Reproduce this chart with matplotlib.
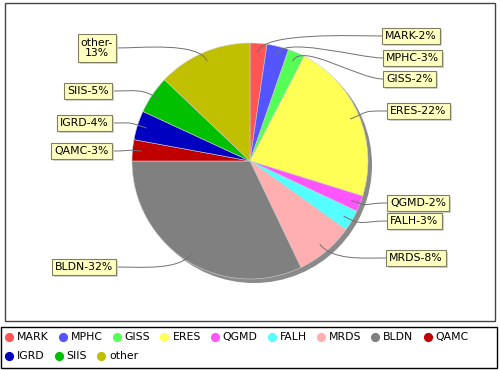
import numpy as np
import matplotlib
matplotlib.use("Agg")
import matplotlib.pyplot as plt
from matplotlib.path import Path
from matplotlib.patches import PathPatch, Circle, Rectangle
from matplotlib.lines import Line2D

# ---- data ----
categories = ["MARK", "MPHC", "GISS", "ERES", "QGMD", "FALH", "MRDS", "BLDN",
              "QAMC", "IGRD", "SIIS", "other"]
values = [2.3, 3.0, 2.3, 22.2, 2.2, 2.9, 8.0, 32.1, 2.9, 4.0, 5.2, 12.9]
colors = ["#FF5555", "#5555FF", "#55FF55", "#FFFF55", "#FF55FF", "#55FFFF",
          "#FFAFAF", "#808080", "#C00000", "#0000C0", "#00C000", "#C0C000"]

# ---- layout (pixels) ----
W, H = 500, 370
CX, CY, R = 250, 161, 118
# label placement: side, box edge x nearest the pie, box centre y
label_side = ["r", "r", "r", "r", "r", "r", "r", "l", "l", "l", "l", "l"]
label_edge = [382, 383, 383, 387, 387, 387, 386, 116, 112, 112, 112, 116]
label_y = [36, 58, 79, 111, 203, 221, 258, 267, 151, 123, 91, 48]
FS = 7.8

fig = plt.figure(figsize=(W / 100, H / 100), dpi=100)
fig.patch.set_facecolor("white")
ax = fig.add_axes([0, 0, 1, 1])

# pie shadow
ax.add_patch(Circle((CX + 4, CY + 4), R, facecolor="#8a8a8a",
                    edgecolor="none", zorder=2))

wedges, _ = ax.pie(values, colors=colors, startangle=270, counterclock=True,
                   center=(CX, CY), radius=R, frame=True,
                   wedgeprops=dict(edgecolor="#d0d0d0", linewidth=0.4))
for w in wedges:
    w.set_zorder(3)
ax.set_xlim(0, W)
ax.set_ylim(H, 0)
ax.set_aspect("auto")
ax.axis("off")

# plot border
ax.add_patch(Rectangle((5, 3), 490, 318, fill=False, edgecolor="#444444",
                       linewidth=1.0, zorder=1))

total = float(sum(values))
cum = np.cumsum([0] + values[:-1])
label_texts = []
for i, name in enumerate(categories):
    pct = values[i] / total * 100
    mid = (cum[i] + values[i] / 2) / total * 2 * np.pi
    dx, dy = np.sin(mid), -np.cos(mid)
    p0 = (CX + 0.92 * R * dx, CY + 0.92 * R * dy)
    p1 = (CX + 1.10 * R * dx, CY + 1.10 * R * dy)
    ex = label_edge[i]
    ly = label_y[i]
    sgn = 1 if label_side[i] == "r" else -1
    p2 = (ex - sgn * 25, ly)
    p3 = (ex, ly)
    path = Path([p0, p1, p2, p3], [Path.MOVETO, Path.CURVE4, Path.CURVE4, Path.CURVE4])
    ax.add_patch(PathPatch(path, fill=False, edgecolor="#707070", linewidth=0.7, zorder=4))

    sep = "-\n" if name == "other" else "-"
    txt = f"{name}{sep}{int(round(pct))}%"
    ha = "left" if sgn == 1 else "right"
    tx = ex + sgn * 3
    t = ax.text(tx, ly, txt, ha=ha, va="center", fontsize=FS, color="black",
                multialignment="center", zorder=6, linespacing=1.1,
                bbox=dict(boxstyle="square,pad=0.3", facecolor="#FFFFC0",
                          edgecolor="#808060", linewidth=0.8))
    label_texts.append(t)

# legend box
ax.add_patch(Rectangle((1, 327), 496, 41, fill=False, edgecolor="black",
                       linewidth=1.0, zorder=1))

fig.canvas.draw()
renderer = fig.canvas.get_renderer()

# label shadows
inv = ax.transData.inverted()
for t in label_texts:
    bb = t.get_bbox_patch().get_window_extent(renderer=renderer)
    (x0, y0), (x1, y1) = inv.transform([[bb.x0, bb.y0], [bb.x1, bb.y1]])
    left, right = min(x0, x1), max(x0, x1)
    top, bot = min(y0, y1), max(y0, y1)
    ax.add_patch(Rectangle((left + 2, top + 2), right - left, bot - top,
                           facecolor="#d4d4d4", edgecolor="none", zorder=5))

# legend items
x = 9
row_y = [337, 356]
row = 0
for name, col in zip(categories, colors):
    t = ax.text(0, 0, name, fontsize=FS, ha="left", va="center")
    wpx = t.get_window_extent(renderer=renderer).width
    if x + 8 + wpx > 492:
        row += 1
        x = 9
    t.set_position((x + 8, row_y[row]))
    ax.add_line(Line2D([x], [row_y[row]], marker="o", markersize=5.6,
                       markerfacecolor=col, markeredgecolor=col, linestyle="none"))
    x = x + 8 + wpx + 14

fig.savefig("out.png", dpi=100, facecolor="white")
